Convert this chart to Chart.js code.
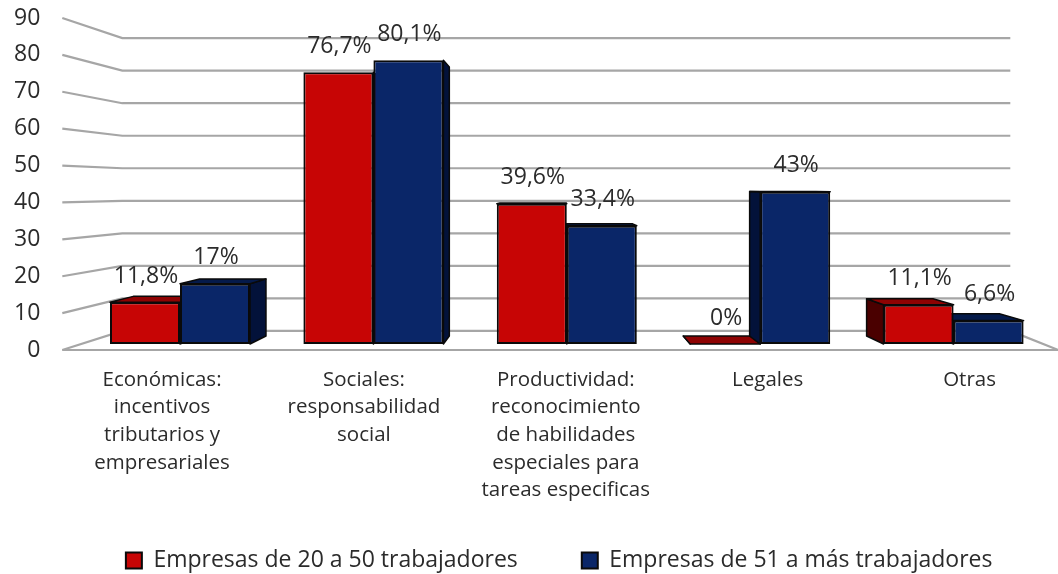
<!DOCTYPE html>
<html>
<head>
<meta charset="utf-8">
<style>
  html, body { margin: 0; padding: 0; background: #fff; }
  canvas { display: block; }
</style>
<script src="https://cdn.jsdelivr.net/npm/chart.js@4"></script>
</head>
<body>
<canvas id="chart" width="1058" height="574"></canvas>
<script>
const categories = [
    ['Económicas:', 'incentivos', 'tributarios y', 'empresariales'],
    ['Sociales:', 'responsabilidad', 'social'],
    ['Productividad:', 'reconocimiento', 'de habilidades', 'especiales para', 'tareas especificas'],
    ['Legales'],
    ['Otras']
];
const small = [11.8, 76.7, 39.6, 0, 11.1];
const large = [17, 80.1, 33.4, 43, 6.6];
const smallName = 'Empresas de 20 a 50 trabajadores';
const largeName = 'Empresas de 51 a más trabajadores';
const wallTicks = [0, 10, 20, 30, 40, 50, 60, 70, 80, 90];

const FONT = '"Open Sans", sans-serif';
const TEXT = '#2b2b2b';
const GRID = '#a6a6a6';

// Where the bar depth runs to
const VP = { x: 557, y: 190, k: 0.052 };
function toBack(x, y) {
    return [x + VP.k * (VP.x - x), y + VP.k * (VP.y - y)];
}

function poly(ctx, pts, fill) {
    ctx.beginPath();
    pts.forEach((p, i) => i ? ctx.lineTo(p[0], p[1]) : ctx.moveTo(p[0], p[1]));
    ctx.closePath();
    ctx.fillStyle = fill;
    ctx.fill();
    ctx.strokeStyle = '#0a0a0a';
    ctx.lineWidth = 1.5;
    ctx.stroke();
}

const wallPlugin = {
    id: 'wall',
    beforeDatasetsDraw(chart) {
        const { ctx, chartArea, scales } = chart;
        const frontL = chartArea.left - 21, backL = chartArea.left + 39;
        const backR = chartArea.right - 40, frontR = chartArea.right + 8;
        ctx.save();
        ctx.strokeStyle = GRID;
        ctx.lineWidth = 2.2;
        wallTicks.forEach(v => {
            const yf = scales.yw.getPixelForValue(v);
            const yb = scales.back.getPixelForValue(v);
            ctx.beginPath();
            ctx.moveTo(frontL, yf);
            ctx.lineTo(backL, yb);
            ctx.lineTo(backR, yb);
            ctx.stroke();
        });
        // floor
        const y0 = scales.yw.getPixelForValue(0);
        const yb0 = scales.back.getPixelForValue(0);
        ctx.beginPath();
        ctx.moveTo(frontL, y0);
        ctx.lineTo(frontR, y0);
        ctx.lineTo(backR, yb0);
        ctx.stroke();
        ctx.restore();

        // sides and tops of the boxes, the fronts are the real bars
        ctx.save();
        ctx.lineJoin = 'round';
        chart.data.datasets.forEach((ds, d) => {
            chart.getDatasetMeta(d).data.forEach(bar => {
                const l = bar.x - bar.width / 2, r = bar.x + bar.width / 2;
                const top = bar.y, bot = bar.base;
                if (r < VP.x) {
                    poly(ctx, [[r, top], toBack(r, top), toBack(r, bot), [r, bot]], ds.sideColor);
                }
                if (l > VP.x) {
                    poly(ctx, [[l, top], toBack(l, top), toBack(l, bot), [l, bot]], ds.sideColor);
                }
                if (top > VP.y) {
                    poly(ctx, [[l, top], toBack(l, top), toBack(r, top), [r, top]], ds.topColor);
                }
            });
        });
        ctx.restore();
    },
    afterDatasetsDraw(chart) {
        const { ctx } = chart;
        ctx.save();
        ctx.font = '23px ' + FONT;
        ctx.fillStyle = TEXT;
        ctx.textAlign = 'center';
        ctx.textBaseline = 'middle';
        chart.data.datasets.forEach((ds, d) => {
            chart.getDatasetMeta(d).data.forEach((bar, i) => {
                const txt = String(ds.data[i]).replace('.', ',') + '%';
                ctx.fillText(txt, bar.x + 1, bar.y - 26);
            });
        });
        ctx.restore();
    },
    afterLayout(chart) {
        // legend sits right of centre and low in the original
        const lg = chart.legend;
        lg.left += 34;
        lg.right += 34;
        lg.top += 8;
        lg.bottom += 8;
        // the long labels run past the axis box, which would clip them
        chart.scales.xl.bottom = chart.height;
    }
};

new Chart(document.getElementById('chart').getContext('2d'), {
    type: 'bar',
    plugins: [wallPlugin],
    data: {
        labels: categories.map(c => c.join(' ')),
        datasets: [
            {
                label: smallName,
                data: small,
                backgroundColor: '#c70505',
                sideColor: '#4a0000',
                topColor: '#8e0303',
                borderColor: '#0a0a0a',
                borderWidth: 2,
                borderSkipped: false
            },
            {
                label: largeName,
                data: large,
                backgroundColor: '#0a2668',
                sideColor: '#03123a',
                topColor: '#051a4a',
                borderColor: '#0a0a0a',
                borderWidth: 2,
                borderSkipped: false
            }
        ]
    },
    options: {
        responsive: false,
        animation: false,
        layout: { padding: { top: 18, right: 7.7, bottom: 0, left: 0 } },
        datasets: { bar: { categoryPercentage: 0.724, barPercentage: 1 } },
        scales: {
            x: { display: false, offset: true, grid: { display: false } },
            // the labels sit on the wider front edge, so they get their own axis
            xl: {
                type: 'linear',
                axis: 'x',
                position: 'bottom',
                offset: false,
                min: -0.39,
                max: 4.4,
                bounds: 'data',
                grid: { display: false, drawTicks: false },
                border: { display: false },
                afterBuildTicks: s => { s.ticks = categories.map((c, i) => ({ value: i })); },
                afterFit: s => { s.height = 127; },
                ticks: {
                    autoSkip: false,
                    maxRotation: 0,
                    padding: 16,
                    color: TEXT,
                    font: { family: FONT, size: 20.5, lineHeight: 1.35 },
                    callback: v => categories[v]
                }
            },
            y: { display: false, min: -1.7, max: 92.05 },
            back: { display: false, axis: 'y', min: -5.88, max: 96.2 },
            yw: {
                axis: 'y',
                position: 'left',
                min: 0,
                max: 90,
                grid: { display: false, drawTicks: false },
                border: { display: false },
                afterFit: s => {
                    s.width = 83.3;
                    s.paddingTop = 0;
                    s.paddingBottom = 0;
                },
                ticks: {
                    stepSize: 10,
                    autoSkip: false,
                    padding: 43,
                    color: TEXT,
                    font: { family: FONT, size: 23 }
                }
            }
        },
        plugins: {
            tooltip: { enabled: false },
            legend: {
                position: 'bottom',
                labels: {
                    boxWidth: 16,
                    boxHeight: 16,
                    padding: 64,
                    color: TEXT,
                    font: { family: FONT, size: 23 }
                }
            }
        }
    }
});
</script>
</body>
</html>
